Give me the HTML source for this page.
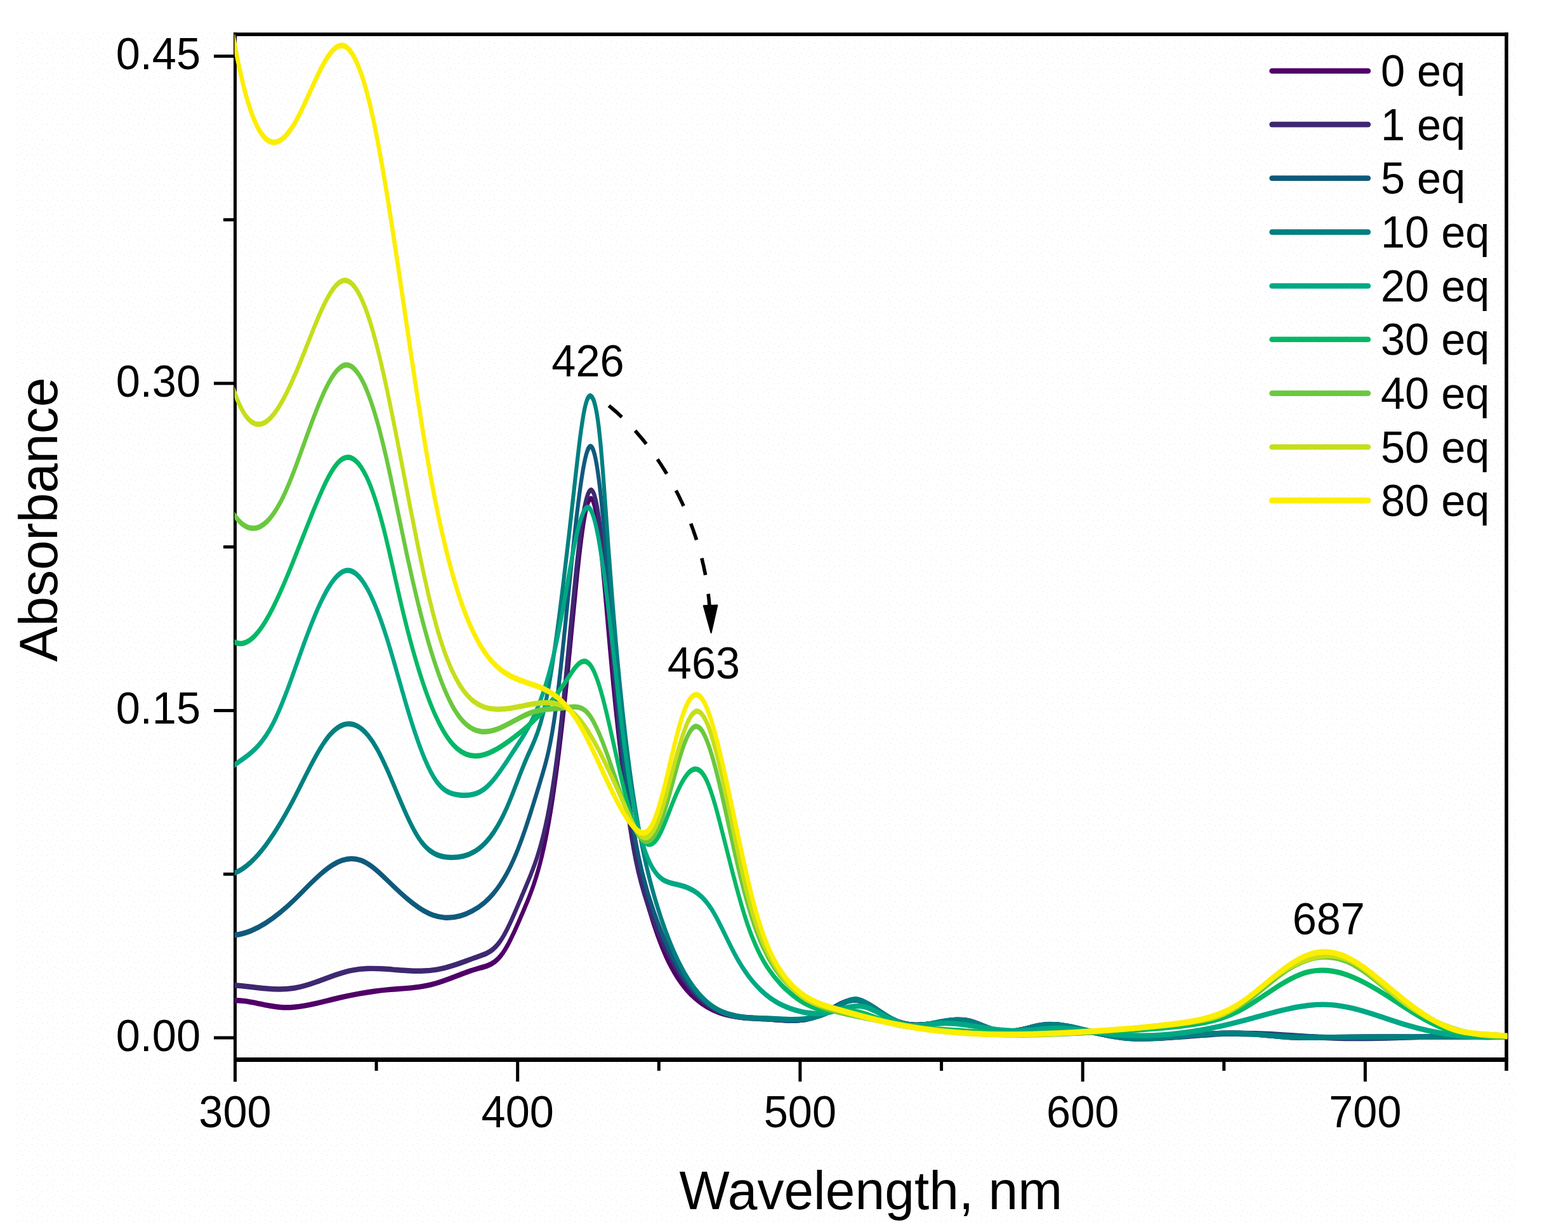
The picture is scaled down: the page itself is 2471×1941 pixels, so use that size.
<!DOCTYPE html>
<html lang="en"><head><meta charset="utf-8"><title>UV-vis titration: Absorbance vs Wavelength</title>
<style>
html,body{margin:0;padding:0;background:#fff;}
body{width:2471px;height:1941px;overflow:hidden;font-family:"Liberation Sans", Arial, Helvetica, sans-serif;}
svg{display:block;}
text{font-family:"Liberation Sans", Arial, Helvetica, sans-serif;fill:#000;}
.tk{font-size:68.5px;}
.ti{font-size:84.0px;}
.cv{fill:none;stroke-linejoin:round;stroke-linecap:butt;}
</style></head><body>
<svg xmlns="http://www.w3.org/2000/svg" width="2471" height="1941" viewBox="0 0 2471 1941">
<rect x="0" y="0" width="2471" height="1941" fill="#fff"/>
<defs><pattern id="dz" width="24" height="24" patternUnits="userSpaceOnUse"><rect x="2" y="3" width="1.2" height="1.2" fill="#dde8e0"/><rect x="10" y="1" width="1.2" height="1.2" fill="#d6f0f6"/><rect x="18" y="4" width="1.2" height="1.2" fill="#ffd6ea"/><rect x="6" y="9" width="1.2" height="1.2" fill="#eef6e0"/><rect x="14" y="11" width="1.2" height="1.2" fill="#dde8e0"/><rect x="21" y="13" width="1.2" height="1.2" fill="#d6f0f6"/><rect x="3" y="17" width="1.2" height="1.2" fill="#ffd6ea"/><rect x="11" y="19" width="1.2" height="1.2" fill="#dde8e0"/><rect x="17" y="21" width="1.2" height="1.2" fill="#eef6e0"/><rect x="8" y="14" width="1.2" height="1.2" fill="#d6f0f6"/></pattern></defs>
<rect x="26" y="51" width="2363" height="1878" fill="url(#dz)"/>
<g fill="#000">
<rect x="368" y="51.3" width="5" height="1653"/>
<rect x="2371.2" y="51.3" width="5.6" height="1635.7"/>
<rect x="368" y="51.3" width="2008.8" height="5.6"/>
<rect x="368" y="1666" width="2008.8" height="7"/>
<rect x="337" y="1632.5" width="32" height="5"/>
<rect x="337" y="1117" width="32" height="5"/>
<rect x="337" y="601.5" width="32" height="5"/>
<rect x="337" y="86" width="32" height="5"/>
<rect x="352" y="1374.7" width="17" height="5"/>
<rect x="352" y="859.2" width="17" height="5"/>
<rect x="352" y="343.7" width="17" height="5"/>
<rect x="813.2" y="1670" width="5" height="34"/>
<rect x="1258.4" y="1670" width="5" height="34"/>
<rect x="1703.7" y="1670" width="5" height="34"/>
<rect x="2148.9" y="1670" width="5" height="34"/>
<rect x="590.6" y="1670" width="5" height="17"/>
<rect x="1035.8" y="1670" width="5" height="17"/>
<rect x="1481.1" y="1670" width="5" height="17"/>
<rect x="1926.3" y="1670" width="5" height="17"/>
</g>
<defs><clipPath id="pc"><rect x="369.5" y="54" width="2005.8" height="1616"/></clipPath></defs>
<g class="cv" clip-path="url(#pc)">
<path d="M362.5,1163.16C365.2,1163.18 367.8,1163.21 370.5,1163.23C376.2,1163.28 381.9,1163.7 387.6,1164.31C393.7,1164.98 399.9,1165.88 406,1166.83C412.1,1167.77 418.3,1168.75 424.4,1169.57C430.5,1170.4 436.7,1171.06 442.8,1171.37C449.7,1171.72 456.5,1171.62 463.4,1171.2C474.9,1170.49 486.4,1168.88 497.9,1166.94C509.4,1164.99 520.9,1162.72 532.4,1160.69C543.9,1158.67 555.4,1156.89 566.9,1155.38C574.6,1154.37 582.2,1153.49 589.9,1152.73C597.6,1151.97 605.2,1151.33 612.9,1150.83C620.6,1150.33 628.2,1149.97 635.9,1149.53C643.6,1149.1 651.2,1148.6 658.9,1147.84C665.9,1147.13 673,1146.21 680,1144.9C688.9,1143.24 697.9,1140.97 706.8,1138.52C716.2,1135.94 725.5,1133.16 734.9,1130.67C741.2,1129 747.4,1127.45 753.7,1126.18C758.4,1125.24 763,1124.44 767.7,1123.16C771.8,1122.03 775.8,1120.54 779.9,1118.25C783,1116.48 786.2,1114.24 789.3,1111.33C791.8,1109 794.3,1106.25 796.8,1103.17C799.3,1100.09 801.8,1096.67 804.3,1093C806.2,1090.27 808,1087.4 809.9,1084.43C811.5,1081.93 813,1079.37 814.6,1076.76C816.2,1074.15 817.7,1071.5 819.3,1068.82C820.8,1066.19 822.4,1063.55 823.9,1060.9C825.5,1058.19 827,1055.48 828.6,1052.72C830.2,1049.96 831.7,1047.14 833.3,1044.23C834.9,1041.31 836.4,1038.29 838,1035.12C838.9,1033.23 839.9,1031.28 840.8,1029.27C845.1,1020.02 849.4,1009.39 853.7,996.35C856.3,988.37 859,979.48 861.6,969.45C863.8,961.07 866,951.9 868.2,941.92C870.4,931.95 872.6,921.17 874.8,909.58C877,897.81 879.3,885.21 881.5,871.77C883,862.75 884.5,853.34 886,843.55C887.5,833.76 889,823.59 890.5,813.03C891.5,806 892.5,798.79 893.5,791.41C896,772.97 898.5,753.45 901,734.03C903.8,712.01 906.7,690.11 909.5,670.03C913,645.22 916.5,623.17 920,607.07C921.7,599.41 923.3,593.09 925,588.47C926.3,584.77 927.7,582.16 929,580.81C929.9,579.86 930.9,579.54 931.8,579.89C932.7,580.24 933.7,581.27 934.6,582.93C935.9,585.26 937.2,588.83 938.5,593.54C940,598.98 941.5,605.94 943,614.27C947,636.49 951,668.44 955,702.17C956.5,714.82 958,727.72 959.5,740.45C960.7,750.35 961.8,760.15 963,769.65C967.8,809 972.7,843.2 977.5,873.17C981.2,895.9 984.8,916.19 988.5,934.43C992.5,954.33 996.5,971.8 1000.5,987.34C1008,1016.62 1015.6,1039.08 1023.1,1058.14C1031.9,1080.34 1040.6,1097.94 1049.4,1112.09C1055.3,1121.68 1061.3,1129.68 1067.2,1136.47C1076.9,1147.52 1086.5,1155.33 1096.2,1161.45C1108.7,1169.35 1121.2,1174.41 1133.7,1177.71C1146.2,1181 1158.6,1182.53 1171.1,1183.39C1183.6,1184.24 1196.1,1184.41 1208.6,1184.97C1219.1,1185.45 1229.5,1186.19 1240,1186.47C1248.9,1186.7 1257.8,1186.59 1266.7,1185.66C1275.6,1184.75 1284.4,1183.03 1293.3,1180.05C1299.5,1177.95 1305.8,1175.24 1312,1172.58C1317.3,1170.32 1322.7,1168.1 1328,1166.35C1335,1164.07 1342,1162.61 1349,1162.95C1355.3,1163.26 1361.7,1165.05 1368,1167.56C1374.2,1170.03 1380.5,1173.2 1386.7,1176.35C1392.9,1179.49 1399.1,1182.62 1405.3,1185.02C1412.4,1187.79 1419.6,1189.61 1426.7,1190.7C1432,1191.52 1437.4,1191.93 1442.7,1192.04C1450.7,1192.19 1458.7,1191.66 1466.7,1190.75C1473.8,1189.94 1480.9,1188.85 1488,1187.92C1494.2,1187.1 1500.5,1186.41 1506.7,1186.17C1512.9,1185.92 1519.1,1186.11 1525.3,1187.04C1532.4,1188.11 1539.6,1190.17 1546.7,1192.3C1553.8,1194.42 1560.9,1196.62 1568,1198C1574.2,1199.21 1580.5,1199.8 1586.7,1199.77C1593.8,1199.73 1600.9,1198.9 1608,1197.77C1615.1,1196.64 1622.2,1195.22 1629.3,1194.01C1635.5,1192.95 1641.8,1192.05 1648,1191.66C1652.4,1191.38 1656.9,1191.36 1661.3,1191.53C1667.5,1191.77 1673.8,1192.4 1680,1193.23C1687.1,1194.17 1694.2,1195.39 1701.3,1196.62C1709.3,1198.01 1717.3,1199.41 1725.3,1200.73C1732.4,1201.9 1739.6,1203.01 1746.7,1203.99C1755.6,1205.2 1764.4,1206.2 1773.3,1206.85C1782.2,1207.5 1791.1,1207.81 1800,1207.86C1813.3,1207.94 1826.7,1207.45 1840,1206.71C1853.3,1205.96 1866.7,1204.96 1880,1204.02C1888.3,1203.44 1896.7,1202.87 1905,1202.41C1912.7,1201.99 1920.3,1201.65 1928,1201.46C1935.3,1201.28 1942.7,1201.23 1950,1201.37C1959.7,1201.55 1969.3,1202.06 1979,1202.69C1997.3,1203.88 2015.7,1205.51 2034,1206.22C2057,1207.11 2080,1206.54 2103,1206.2C2135.3,1205.71 2167.7,1205.66 2200,1205.72C2233.3,1205.79 2266.7,1205.97 2300,1205.91C2324.7,1205.86 2349.3,1205.69 2374,1205.24C2376.7,1205.19 2379.3,1205.14 2382,1205.09" stroke="#500068" stroke-width="6.2" transform="scale(1,1.3548)"/>
<path d="M362.5,1145.55C365.2,1145.68 367.8,1145.8 370.5,1145.92C378.5,1146.28 386.5,1146.92 394.5,1147.59C402.2,1148.25 409.8,1148.94 417.5,1149.47C425.2,1150 432.8,1150.36 440.5,1150.37C448.1,1150.37 455.8,1150.01 463.4,1149.09C474.9,1147.71 486.4,1145.05 497.9,1142.04C509.4,1139.03 520.9,1135.66 532.4,1132.86C540.1,1131 547.7,1129.38 555.4,1128.29C563.1,1127.2 570.7,1126.63 578.4,1126.41C586.1,1126.19 593.7,1126.31 601.4,1126.6C607.5,1126.84 613.7,1127.18 619.8,1127.54C627.5,1127.98 635.1,1128.46 642.8,1128.78C649.7,1129.07 656.5,1129.24 663.4,1129.16C671.6,1129.06 679.9,1128.6 688.1,1127.57C697.5,1126.39 706.8,1124.46 716.2,1122.21C722.4,1120.7 728.7,1119.05 734.9,1117.38C741.2,1115.69 747.4,1113.98 753.7,1112.37C758.4,1111.17 763,1110.03 767.7,1108.28C770.8,1107.1 774,1105.65 777.1,1103.73C780.2,1101.8 783.4,1099.4 786.5,1096.33C789,1093.88 791.5,1090.99 794,1087.78C796.2,1084.99 798.3,1081.95 800.5,1078.72C802.4,1075.94 804.2,1073.01 806.1,1069.98C808,1066.9 809.9,1063.72 811.8,1060.47C814.3,1056.19 816.8,1051.81 819.3,1047.4C821.5,1043.59 823.6,1039.76 825.8,1035.98C827.2,1033.53 828.6,1031.11 830,1028.67C835.6,1018.97 841.1,1008.96 846.7,996.18C849.8,989.06 852.9,981.07 856,971.8C858.3,964.82 860.7,957.11 863,948.49C865.5,939.25 868,928.96 870.5,917.4C873,905.84 875.5,893 878,878.67C879.6,869.49 881.2,859.71 882.8,849.38C884.4,839.27 885.9,828.64 887.5,817.56C888.5,810.49 889.5,803.24 890.5,795.82C893.2,776.05 895.8,755.1 898.5,734.29C901.3,712.17 904.2,690.2 907,669.93C910,648.47 913,628.91 916,613.11C918,602.58 920,593.71 922,586.81C923.5,581.64 925,577.57 926.5,574.73C927.3,573.16 928.2,571.96 929,571.17C929.9,570.35 930.7,569.95 931.6,570.02C932.5,570.09 933.3,570.62 934.2,571.63C935,572.6 935.9,574.02 936.7,575.9C938.1,579.15 939.6,583.78 941,589.59C942.8,597.02 944.7,606.38 946.5,617.24C950,637.97 953.5,664.18 957,692.86C958.3,703.79 959.7,715.07 961,726.55C962.3,737.75 963.6,749.12 964.9,760.53C969.7,802.66 974.5,845.22 979.3,880.49C982.9,906.71 986.4,928.9 990,947.9C993.8,968.32 997.7,985.07 1001.5,999.17C1009.6,1029.08 1017.8,1047.09 1025.9,1063.1C1034.9,1080.87 1044,1096.18 1053,1109.3C1061,1120.92 1069,1130.83 1077,1139.24C1087,1149.74 1097,1157.88 1107,1164.05C1115.9,1169.55 1124.8,1173.49 1133.7,1176.34C1146.2,1180.34 1158.6,1182.19 1171.1,1183.18C1183.6,1184.18 1196.1,1184.31 1208.6,1184.87C1219.1,1185.34 1229.5,1186.1 1240,1186.4C1248.9,1186.65 1257.8,1186.56 1266.7,1185.66C1275.6,1184.76 1284.4,1183.06 1293.3,1180.08C1299.5,1177.99 1305.8,1175.27 1312,1172.61C1317.3,1170.34 1322.7,1168.11 1328,1166.36C1335,1164.06 1342,1162.6 1349,1162.94C1355.3,1163.24 1361.7,1165.03 1368,1167.55C1374.2,1170.02 1380.5,1173.2 1386.7,1176.36C1392.9,1179.51 1399.1,1182.63 1405.3,1185.04C1412.4,1187.81 1419.6,1189.62 1426.7,1190.71C1432,1191.52 1437.4,1191.93 1442.7,1192.03C1450.7,1192.18 1458.7,1191.64 1466.7,1190.73C1473.8,1189.93 1480.9,1188.84 1488,1187.92C1494.2,1187.12 1500.5,1186.44 1506.7,1186.19C1512.9,1185.94 1519.1,1186.13 1525.3,1187.05C1532.4,1188.1 1539.6,1190.12 1546.7,1192.24C1553.8,1194.34 1560.9,1196.54 1568,1197.97C1574.2,1199.23 1580.5,1199.89 1586.7,1199.88C1593.8,1199.88 1600.9,1199 1608,1197.82C1615.1,1196.63 1622.2,1195.13 1629.3,1193.87C1635.5,1192.76 1641.8,1191.84 1648,1191.48C1652.4,1191.22 1656.9,1191.25 1661.3,1191.48C1667.5,1191.81 1673.8,1192.54 1680,1193.47C1687.1,1194.53 1694.2,1195.84 1701.3,1197.08C1709.3,1198.48 1717.3,1199.79 1725.3,1200.98C1732.4,1202.03 1739.6,1202.99 1746.7,1203.82C1755.6,1204.85 1764.4,1205.68 1773.3,1206.24C1782.2,1206.81 1791.1,1207.12 1800,1207.24C1813.3,1207.4 1826.7,1207.13 1840,1206.63C1853.3,1206.12 1866.7,1205.39 1880,1204.64C1888.3,1204.17 1896.7,1203.7 1905,1203.27C1912.7,1202.87 1920.3,1202.52 1928,1202.24C1935.3,1201.98 1942.7,1201.78 1950,1201.7C1959.7,1201.59 1969.3,1201.67 1979,1201.87C1997.3,1202.27 2015.7,1203.13 2034,1204.06C2057,1205.23 2080,1206.52 2103,1207.15C2135.3,1208.04 2167.7,1207.62 2200,1206.89C2233.3,1206.13 2266.7,1205.05 2300,1204.71C2324.7,1204.46 2349.3,1204.63 2374,1205.64C2376.7,1205.75 2379.3,1205.86 2382,1205.97" stroke="#3E2870" stroke-width="6.2" transform="scale(1,1.3548)"/>
<path d="M362.5,1087.94C365.2,1087.72 367.8,1087.5 370.5,1087.28C378.7,1086.6 386.9,1084.97 395.1,1082.54C402.9,1080.22 410.7,1077.18 418.5,1073.52C426.3,1069.85 434.2,1065.57 442,1060.8C449.8,1056.05 457.6,1050.81 465.4,1045.21C473.2,1039.62 481,1033.66 488.8,1027.95C496.6,1022.24 504.4,1016.77 512.2,1012.16C516.1,1009.84 520.1,1007.73 524,1005.92C529,1003.62 534,1001.8 539,1000.54C544,999.29 549,998.6 554,998.57C559,998.54 564,999.17 569,1000.55C574,1001.92 579,1004.05 584,1006.67C587.4,1008.45 590.8,1010.46 594.2,1012.62C602,1017.58 609.8,1023.32 617.6,1028.88C625.4,1034.44 633.2,1039.83 641,1044.72C647.3,1048.69 653.7,1052.32 660,1055.45C667.7,1059.28 675.5,1062.34 683.2,1064.34C688.9,1065.8 694.6,1066.69 700.3,1067.03C708.7,1067.52 717.2,1066.82 725.6,1065.03C731.8,1063.7 738.1,1061.78 744.3,1059.31C750.5,1056.84 756.8,1053.82 763,1049.92C767.7,1046.98 772.4,1043.54 777.1,1039.45C780.6,1036.43 784,1033.07 787.5,1029.29C789.7,1026.93 791.8,1024.41 794,1021.72C796.7,1018.33 799.5,1014.66 802.2,1010.68C806.9,1003.89 811.5,996.22 816.2,987.52C819.9,980.57 823.7,972.95 827.4,964.89C830.9,957.4 834.3,949.52 837.8,941.42C840.6,934.88 843.4,928.19 846.2,921.44C848,917.19 849.7,912.91 851.5,908.63C854.6,901.03 857.8,893.44 860.9,884.39C863.1,878.13 865.2,871.18 867.4,863.06C869.3,855.94 871.2,847.92 873.1,838.67C874.7,831.05 876.2,822.59 877.8,813.48C878.9,807.28 879.9,800.78 881,794.03C884,775.06 887,754.14 890,732.56C893.2,709.77 896.3,686.24 899.5,663.45C902.3,643.06 905.2,623.27 908,605.14C910.6,588.71 913.1,573.65 915.7,560.74C917.1,553.71 918.5,547.31 919.9,541.76C921.4,535.68 923,530.61 924.5,526.83C925.6,524.2 926.6,522.2 927.7,520.9C928.7,519.68 929.7,519.09 930.7,519.15C931.7,519.21 932.7,519.92 933.7,521.3C934.8,522.82 935.9,525.15 937,528.32C938.5,532.66 940,538.56 941.5,545.82C942.8,552.27 944.2,559.8 945.5,568.25C947.5,580.93 949.5,595.68 951.5,612.01C954.2,634.33 957,659.58 959.7,685.55C961.5,702.33 963.2,719.42 965,736.19C966.8,753.6 968.7,770.68 970.5,786.76C974.7,823.31 978.8,854.69 983,881.84C986.7,905.74 990.3,926.37 994,944.38C998.2,964.84 1002.3,981.91 1006.5,996.55C1014.5,1024.76 1022.6,1043.91 1030.6,1060.78C1039.7,1079.96 1048.9,1096.2 1058,1109.92C1065,1120.44 1072,1129.48 1079,1137.24C1089,1148.33 1099,1156.79 1109,1163.19C1117.2,1168.47 1125.5,1172.34 1133.7,1175.22C1146.2,1179.57 1158.6,1181.63 1171.1,1182.75C1183.6,1183.87 1196.1,1184.05 1208.6,1184.66C1219.1,1185.17 1229.5,1185.98 1240,1186.32C1248.9,1186.61 1257.8,1186.55 1266.7,1185.68C1275.6,1184.81 1284.4,1183.12 1293.3,1180.14C1299.5,1178.05 1305.8,1175.32 1312,1172.65C1317.3,1170.37 1322.7,1168.13 1328,1166.37C1335,1164.07 1342,1162.59 1349,1162.92C1355.3,1163.22 1361.7,1165 1368,1167.52C1374.2,1169.99 1380.5,1173.17 1386.7,1176.34C1392.9,1179.49 1399.1,1182.62 1405.3,1185.03C1412.4,1187.81 1419.6,1189.63 1426.7,1190.72C1432,1191.54 1437.4,1191.95 1442.7,1192.05C1450.7,1192.2 1458.7,1191.66 1466.7,1190.75C1473.8,1189.93 1480.9,1188.83 1488,1187.9C1494.2,1187.08 1500.5,1186.39 1506.7,1186.15C1512.9,1185.91 1519.1,1186.1 1525.3,1187.05C1532.4,1188.13 1539.6,1190.2 1546.7,1192.34C1553.8,1194.47 1560.9,1196.67 1568,1198.02C1574.2,1199.2 1580.5,1199.74 1586.7,1199.7C1593.8,1199.64 1600.9,1198.83 1608,1197.74C1615.1,1196.65 1622.2,1195.28 1629.3,1194.1C1635.5,1193.06 1641.8,1192.18 1648,1191.77C1652.4,1191.48 1656.9,1191.42 1661.3,1191.55C1667.5,1191.74 1673.8,1192.29 1680,1193.07C1687.1,1193.95 1694.2,1195.12 1701.3,1196.36C1709.3,1197.75 1717.3,1199.24 1725.3,1200.66C1732.4,1201.93 1739.6,1203.14 1746.7,1204.21C1755.6,1205.53 1764.4,1206.61 1773.3,1207.25C1782.2,1207.9 1791.1,1208.09 1800,1208C1813.3,1207.85 1826.7,1207.05 1840,1206.11C1853.3,1205.17 1866.7,1204.08 1880,1203.36C1888.3,1202.91 1896.7,1202.6 1905,1202.41C1912.7,1202.23 1920.3,1202.15 1928,1202.14C1935.3,1202.13 1942.7,1202.18 1950,1202.28C1959.7,1202.41 1969.3,1202.61 1979,1202.86C1997.3,1203.33 2015.7,1203.98 2034,1204.61C2057,1205.4 2080,1206.18 2103,1206.57C2135.3,1207.12 2167.7,1206.92 2200,1206.51C2233.3,1206.08 2266.7,1205.44 2300,1205.18C2324.7,1204.99 2349.3,1205.01 2374,1205.48C2376.7,1205.53 2379.3,1205.58 2382,1205.63" stroke="#0F5A7C" stroke-width="6.2" transform="scale(1,1.3548)"/>
<path d="M362.5,1017.38C365.2,1016.57 367.8,1015.75 370.5,1014.94C378.7,1012.43 386.9,1008.26 395.1,1002.68C402.9,997.36 410.7,990.77 418.5,983.1C426.3,975.39 434.2,966.6 442,956.93C449.8,947.3 457.6,936.8 465.4,925.63C473.2,914.47 481,902.64 488.8,891.55C495.8,881.54 502.9,872.14 509.9,864.35C513.3,860.63 516.6,857.27 520,854.4C523.7,851.28 527.3,848.72 531,846.75C534.3,844.96 537.7,843.64 541,842.81C544.5,841.94 548,841.59 551.5,841.78C555,841.98 558.5,842.7 562,843.97C565,845.05 568,846.53 571,848.41C574,850.29 577,852.57 580,855.25C584.7,859.47 589.5,864.7 594.2,870.93C599.7,878.13 605.1,886.67 610.6,895.82C616.1,904.96 621.5,914.71 627,924.33C632.5,933.94 637.9,943.42 643.4,952.03C648.9,960.64 654.3,968.37 659.8,974.49C665.3,980.61 670.7,985.11 676.2,988.41C681.7,991.71 687.1,993.81 692.6,995.12C698.8,996.61 705.1,997.07 711.3,997.11C717.5,997.16 723.8,996.78 730,995.68C736.3,994.57 742.5,992.73 748.8,989.85C752.5,988.14 756.3,986.06 760,983.54C766.2,979.34 772.5,973.92 778.7,967C781.8,963.51 785,959.65 788.1,955.37C791.2,951.08 794.4,946.37 797.5,941.21C800.6,936.1 803.7,930.54 806.8,924.77C808.9,920.93 810.9,916.99 813,913.04C816.5,906.41 819.9,899.72 823.4,893.33C825.8,888.96 828.1,884.73 830.5,880.75C832.8,876.82 835.2,873.13 837.5,869.3C840.6,864.23 843.7,858.92 846.8,852.53C849.9,846.07 853.1,838.5 856.2,828.93C859.3,819.36 862.5,807.8 865.6,794.58C866.4,791.21 867.2,787.72 868,784.14C871.2,769.95 874.3,754.17 877.5,737.16C880.8,719.61 884,700.74 887.3,680.96C890.4,662.39 893.4,643 896.5,623.14C899.2,605.86 901.8,588.22 904.5,570.43C905.6,563.09 906.7,555.73 907.8,548.48C909.3,538.38 910.9,528.51 912.4,519.27C914.5,506.41 916.7,494.76 918.8,485.37C920.1,479.65 921.4,474.78 922.7,470.98C923.8,467.77 924.9,465.33 926,463.61C927.1,461.89 928.2,460.9 929.3,460.56C930.4,460.23 931.5,460.57 932.6,461.52C934,462.72 935.4,464.92 936.8,468.42C938.2,471.91 939.6,476.7 941,483.08C942.4,489.46 943.8,497.43 945.2,507.3C946.8,518.34 948.3,531.75 949.9,546.49C951.1,557.79 952.3,569.86 953.5,582.25C955.3,600.49 957,619.41 958.8,637.52C961.1,660.76 963.3,682.66 965.6,703.32C967.6,721.25 969.5,738.25 971.5,754.38C973.7,772.15 975.8,788.87 978,804.62C982.8,839.75 987.7,870.05 992.5,896.47C996,915.59 999.5,932.68 1003,948.08C1007,965.69 1011,981.09 1015,994.82C1022.4,1020.1 1029.7,1039.72 1037.1,1056.99C1045.2,1076.04 1053.4,1092.23 1061.5,1105.97C1067.4,1116 1073.4,1124.72 1079.3,1132.32C1089.3,1145.13 1099.3,1154.74 1109.3,1161.95C1117.4,1167.81 1125.6,1172.09 1133.7,1175.23C1146.2,1180.03 1158.6,1182.14 1171.1,1183.12C1183.6,1184.11 1196.1,1183.96 1208.6,1184.27C1219.1,1184.53 1229.5,1185.1 1240,1185.37C1248.9,1185.59 1257.8,1185.59 1266.7,1184.97C1275.6,1184.35 1284.4,1183.12 1293.3,1180.9C1299.5,1179.33 1305.8,1177.28 1312,1174.6C1317.3,1172.31 1322.7,1169.55 1328,1167.21C1335,1164.13 1342,1161.75 1349,1162.01C1355.3,1162.26 1361.7,1164.66 1368,1167.41C1374.2,1170.11 1380.5,1173.14 1386.7,1176.13C1392.9,1179.1 1399.1,1182.03 1405.3,1184.57C1412.4,1187.48 1419.6,1189.87 1426.7,1191.18C1432,1192.15 1437.4,1192.53 1442.7,1192.51C1450.7,1192.48 1458.7,1191.55 1466.7,1190.43C1473.8,1189.43 1480.9,1188.27 1488,1187.43C1494.2,1186.69 1500.5,1186.21 1506.7,1186.16C1512.9,1186.1 1519.1,1186.48 1525.3,1187.46C1532.4,1188.59 1539.6,1190.52 1546.7,1192.49C1553.8,1194.45 1560.9,1196.46 1568,1197.75C1574.2,1198.89 1580.5,1199.48 1586.7,1199.57C1593.8,1199.67 1600.9,1199.12 1608,1197.98C1615.1,1196.85 1622.2,1195.13 1629.3,1193.93C1635.5,1192.87 1641.8,1192.21 1648,1191.89C1652.4,1191.66 1656.9,1191.6 1661.3,1191.7C1667.5,1191.84 1673.8,1192.29 1680,1192.98C1687.1,1193.78 1694.2,1194.9 1701.3,1196.16C1709.3,1197.59 1717.3,1199.19 1725.3,1200.71C1732.4,1202.06 1739.6,1203.34 1746.7,1204.35C1755.6,1205.62 1764.4,1206.48 1773.3,1207.03C1782.2,1207.58 1791.1,1207.81 1800,1207.81C1813.3,1207.81 1826.7,1207.29 1840,1206.54C1853.3,1205.8 1866.7,1204.83 1880,1203.93C1888.3,1203.37 1896.7,1202.84 1905,1202.4C1912.7,1202.01 1920.3,1201.69 1928,1201.52C1935.3,1201.35 1942.7,1201.31 1950,1201.45C1959.7,1201.63 1969.3,1202.12 1979,1202.73C1997.3,1203.89 2015.7,1205.46 2034,1206.16C2057,1207.03 2080,1206.51 2103,1206.19C2135.3,1205.75 2167.7,1205.7 2200,1205.75C2233.3,1205.8 2266.7,1205.96 2300,1205.89C2324.7,1205.84 2349.3,1205.67 2374,1205.24C2376.7,1205.2 2379.3,1205.15 2382,1205.1" stroke="#008080" stroke-width="6.2" transform="scale(1,1.3548)"/>
<path d="M362.5,893.1C365.2,891.73 367.8,890.36 370.5,888.99C378.7,884.77 386.9,880.82 395.1,875.62C399,873.15 402.9,870.4 406.8,867.21C410.7,864.02 414.6,860.39 418.5,856.16C422.4,851.89 426.4,847 430.3,841.34C436.5,832.37 442.8,821.44 449,809.53C454.3,799.34 459.7,788.43 465,777.39C470,767.05 475,756.61 480,746.56C483.1,740.26 486.3,734.12 489.4,728.21C492.5,722.37 495.6,716.75 498.7,711.43C501.8,706.05 505,700.99 508.1,696.3C511.2,691.62 514.4,687.32 517.5,683.49C520.6,679.69 523.7,676.35 526.8,673.53C529.9,670.68 533.1,668.37 536.2,666.67C540.6,664.3 544.9,663.13 549.3,663.35C553.4,663.56 557.4,664.98 561.5,667.5C564.6,669.45 567.8,672.05 570.9,675.25C573.7,678.11 576.5,681.46 579.3,685.25C582.1,689.05 584.9,693.29 587.7,697.94C590.2,702.09 592.7,706.57 595.2,711.35C597.7,716.13 600.2,721.22 602.7,726.58C604.9,731.29 607.1,736.22 609.3,741.35C611.2,745.7 613,750.19 614.9,754.79C616.8,759.38 618.6,764.07 620.5,768.83C622.7,774.34 624.8,779.94 627,785.55C631.7,797.64 636.3,809.8 641,821.39C645.7,833.06 650.4,844.15 655.1,854.39C659.8,864.57 664.4,873.9 669.1,882.13C675.4,893.19 681.6,902.25 687.9,908.69C693.6,914.55 699.3,918.23 705,920.58C711.8,923.36 718.5,924.26 725.3,924.68C732.2,925.1 739.1,925.02 746,923.71C752.2,922.53 758.5,920.34 764.7,916.62C770.5,913.17 776.2,908.42 782,902.9C788,897.17 794,890.62 800,883.9C803.1,880.39 806.3,876.83 809.4,873.31C812.5,869.83 815.6,866.38 818.7,862.84C821.8,859.25 825,855.55 828.1,851.59C831.2,847.63 834.4,843.41 837.5,838.77C840.6,834.18 843.7,829.18 846.8,823.63C849.9,818.01 853.1,811.83 856.2,804.92C857.9,801.1 859.7,797.06 861.4,792.77C868.3,775.79 875.1,754.92 882,728.57C886.9,709.77 891.8,688.17 896.7,667.71C899.8,654.9 902.8,642.55 905.9,631.61C908.7,621.61 911.5,612.8 914.3,605.9C916.4,600.81 918.4,596.76 920.5,594.04C921.8,592.29 923.2,591.1 924.5,590.53C925.5,590.12 926.4,590.04 927.4,590.32C928.4,590.6 929.3,591.23 930.3,592.25C931.5,593.55 932.8,595.48 934,597.98C935.5,601.01 937,604.9 938.5,609.52C940.7,616.4 943,624.93 945.2,634.77C947.6,645.49 950.1,657.77 952.5,671.17C955.3,686.78 958.2,703.92 961,721.79C963.9,739.87 966.7,758.71 969.6,777.49C975.2,814.39 980.9,851.06 986.5,881.31C989.1,895.28 991.7,907.87 994.3,919.24C996.5,928.86 998.7,937.6 1000.9,945.54C1003.9,956.49 1007,965.92 1010,974.07C1014.1,985.16 1018.3,993.85 1022.4,1000.69C1027,1008.31 1031.6,1013.63 1036.2,1017.43C1040.9,1021.32 1045.6,1023.61 1050.3,1025.13C1055,1026.63 1059.6,1027.38 1064.3,1028.16C1069,1028.94 1073.7,1029.76 1078.4,1030.88C1083.1,1032 1087.7,1033.42 1092.4,1035.4C1097.1,1037.39 1101.8,1039.96 1106.5,1043.36C1111.2,1046.75 1115.8,1050.96 1120.5,1056.26C1125.2,1061.6 1129.9,1068.05 1134.6,1074.93C1139.3,1081.76 1143.9,1089.02 1148.6,1096.05C1151.4,1100.31 1154.3,1104.49 1157.1,1108.43C1161.8,1114.92 1166.4,1120.78 1171.1,1126.07C1175.8,1131.39 1180.5,1136.14 1185.2,1140.39C1189.9,1144.63 1194.6,1148.38 1199.3,1151.68C1204,1154.97 1208.6,1157.83 1213.3,1160.33C1218,1162.85 1222.7,1165 1227.4,1166.87C1231.6,1168.54 1235.8,1169.97 1240,1171.22C1244.1,1172.45 1248.2,1173.5 1252.3,1174.42C1261.3,1176.45 1270.3,1177.87 1279.3,1178.41C1286.2,1178.83 1293.1,1178.73 1300,1177.99C1306.7,1177.28 1313.3,1175.97 1320,1174.6C1325,1173.58 1330,1172.53 1335,1171.67C1339.7,1170.88 1344.3,1170.26 1349,1170.05C1353.7,1169.84 1358.3,1170.05 1363,1170.91C1368.7,1171.96 1374.3,1173.98 1380,1176.12C1388.3,1179.27 1396.7,1182.68 1405,1185.58C1413.3,1188.47 1421.7,1190.85 1430,1191.92C1436.7,1192.77 1443.3,1192.8 1450,1192.46C1460,1191.96 1470,1190.66 1480,1190.18C1488.7,1189.76 1497.3,1189.95 1506,1190.5C1514,1191.01 1522,1191.81 1530,1192.71C1538.3,1193.65 1546.7,1194.7 1555,1195.61C1565.3,1196.74 1575.7,1197.68 1586,1198.21C1595.7,1198.71 1605.3,1198.85 1615,1198.47C1623.3,1198.15 1631.7,1197.43 1640,1196.8C1647,1196.26 1654,1195.78 1661,1195.62C1669,1195.44 1677,1195.69 1685,1196.2C1693.3,1196.73 1701.7,1197.53 1710,1198.42C1722,1199.7 1734,1201.16 1746,1202.21C1764,1203.8 1782,1204.48 1800,1204.39C1820,1204.29 1840,1203.24 1860,1201.42C1881.3,1199.48 1902.7,1196.67 1924,1193.21C1937.8,1190.96 1951.7,1188.45 1965.5,1185.72C1983.9,1182.08 2002.3,1178.08 2020.7,1174.81C2034.5,1172.37 2048.2,1170.34 2062,1169.19C2074,1168.19 2086,1167.86 2098,1168.51C2109,1169.11 2120,1170.53 2131,1172.46C2144.8,1174.87 2158.6,1178.08 2172.4,1181.46C2186.2,1184.83 2200,1188.38 2213.8,1191.45C2227.6,1194.53 2241.4,1197.14 2255.2,1199.27C2269,1201.4 2282.8,1203.05 2296.6,1204.21C2322.4,1206.37 2348.2,1206.81 2374,1205.41C2376.7,1205.27 2379.3,1205.13 2382,1204.98" stroke="#00A884" stroke-width="6.2" transform="scale(1,1.3548)"/>
<path d="M362.5,744.11C365.2,745.05 367.8,745.99 370.5,746.93C374,748.17 377.5,748.62 381,748.37C389.6,747.75 398.2,742.89 406.8,734.95C414.6,727.72 422.5,717.93 430.3,706.45C438.1,695.03 445.9,681.94 453.7,668.04C458.5,659.55 463.2,650.76 468,641.87C472,634.41 476,626.88 480,619.39C483.1,613.53 486.3,607.69 489.4,601.94C492.5,596.24 495.6,590.63 498.7,585.16C501.8,579.63 505,574.23 508.1,569.13C511.2,564.03 514.4,559.23 517.5,554.88C520.6,550.57 523.7,546.71 526.8,543.44C529.9,540.13 533.1,537.43 536.2,535.48C540.1,533.07 544,531.83 547.9,531.78C551.8,531.73 555.7,532.87 559.6,535.2C562.7,537.08 565.9,539.73 569,543.15C571.8,546.21 574.6,549.89 577.4,554.19C579.9,558.04 582.4,562.38 584.9,567.19C587.4,572.01 589.9,577.31 592.4,583.07C594.9,588.83 597.4,595.05 599.9,601.71C601.8,606.69 603.6,611.91 605.5,617.38C607.4,622.84 609.2,628.54 611.1,634.4C612.7,639.31 614.2,644.34 615.8,649.42C618,656.56 620.2,663.81 622.4,671.04C624.9,679.25 627.4,687.43 629.9,695.37C632.4,703.31 634.9,711.02 637.4,718.48C639.9,725.94 642.4,733.16 644.9,740.13C647.4,747.1 649.9,753.83 652.4,760.3C654.9,766.68 657.3,772.82 659.8,778.71C664.5,789.85 669.1,800.09 673.8,809.4C678.5,818.78 683.2,827.21 687.9,834.67C693.4,843.34 698.8,850.68 704.3,856.66C709.8,862.63 715.2,867.22 720.7,870.66C730.1,876.54 739.4,879 748.8,879.12C759.7,879.26 770.6,876.22 781.5,871.69C787.7,869.13 793.8,866.09 800,862.87C806.2,859.62 812.5,856.2 818.7,852.51C825,848.8 831.2,844.83 837.5,840.5C843.7,836.2 850,831.54 856.2,826.46C862.4,821.37 868.7,815.84 874.9,809.8C878.3,806.53 881.6,803.11 885,799.56C888.3,796.04 891.7,792.39 895,788.62C898.3,784.89 901.6,781.04 904.9,777.76C907.3,775.41 909.6,773.35 912,771.84C914.6,770.15 917.3,769.13 919.9,768.99C922.3,768.86 924.6,769.44 927,770.87C929,772.08 931,773.89 933,776.4C935.2,779.16 937.4,782.76 939.6,787.05C941.3,790.43 943.1,794.23 944.8,798.39C947,803.58 949.1,809.33 951.3,815.48C954.1,823.42 956.9,832.03 959.7,841C963,851.57 966.3,862.63 969.6,873.66C972,881.57 974.3,889.47 976.7,897.16C978.2,902.04 979.7,906.83 981.2,911.49C985,923.19 988.7,934.07 992.5,943.34C995.3,950.23 998.1,956.24 1000.9,961.33C1004.3,967.44 1007.6,972.24 1011,975.65C1015.4,980.14 1019.9,982.23 1024.3,981.79C1027.9,981.44 1031.4,979.45 1035,975.76C1037.7,973.01 1040.3,969.3 1043,965.02C1046.1,959.99 1049.3,954.18 1052.4,948.2C1055.2,942.86 1058,937.38 1060.8,932.22C1064.2,925.89 1067.7,920.03 1071.1,914.9C1072.9,912.22 1074.7,909.73 1076.5,907.48C1078.3,905.2 1080.2,903.16 1082,901.41C1084,899.5 1086,897.94 1088,896.77C1090.2,895.49 1092.4,894.69 1094.6,894.44C1096.7,894.2 1098.9,894.48 1101,895.33C1103,896.14 1105,897.45 1107,899.33C1108.8,901.03 1110.6,903.18 1112.4,905.82C1114.3,908.56 1116.1,911.84 1118,915.54C1121.1,921.76 1124.3,929.18 1127.4,937.31C1130.5,945.36 1133.6,954.11 1136.7,963.07C1137.8,966.25 1138.9,969.46 1140,972.67C1144.5,985.82 1149,999.07 1153.5,1011.92C1159.4,1028.67 1165.2,1044.74 1171.1,1059.02C1173.3,1064.37 1175.5,1069.47 1177.7,1074.26C1181.9,1083.48 1186.2,1091.55 1190.4,1098.68C1193,1103.11 1195.7,1107.18 1198.3,1110.94C1202,1116.17 1205.6,1120.79 1209.3,1124.94C1216.5,1133.05 1223.6,1139.36 1230.8,1144.88C1233.9,1147.24 1236.9,1149.46 1240,1151.53C1245.9,1155.53 1251.8,1159 1257.7,1161.96C1266.7,1166.48 1275.7,1169.81 1284.7,1172.02C1289.8,1173.27 1294.9,1174.16 1300,1174.71C1308.3,1175.59 1316.7,1175.54 1325,1175.54C1333,1175.55 1341,1175.59 1349,1176.56C1357.7,1177.61 1366.3,1179.73 1375,1182.1C1383.3,1184.37 1391.7,1186.85 1400,1188.8C1410,1191.15 1420,1192.72 1430,1193.84C1437.8,1194.7 1445.5,1195.29 1453.3,1195.75C1462.2,1196.28 1471.1,1196.63 1480,1197.03C1488.9,1197.43 1497.8,1197.88 1506.7,1198.34C1516.1,1198.83 1525.6,1199.33 1535,1199.8C1543.3,1200.22 1551.7,1200.62 1560,1200.97C1570,1201.4 1580,1201.75 1590,1201.98C1597.8,1202.16 1605.5,1202.28 1613.3,1202.33C1622.2,1202.39 1631.1,1202.37 1640,1202.3C1648.9,1202.23 1657.8,1202.1 1666.7,1201.93C1676.1,1201.75 1685.6,1201.53 1695,1201.28C1703.3,1201.07 1711.7,1200.84 1720,1200.58C1737.8,1200.04 1755.5,1199.4 1773.3,1198.61C1782.2,1198.22 1791.1,1197.78 1800,1197.3C1818.3,1196.32 1836.7,1195.14 1855,1193.71C1868.9,1192.64 1882.7,1191.41 1896.6,1189.41C1905.7,1188.09 1914.9,1186.43 1924,1184.25C1933.2,1182.05 1942.5,1179.31 1951.7,1175.85C1960.9,1172.4 1970.1,1168.23 1979.3,1163.82C1988.5,1159.41 1997.7,1154.75 2006.9,1150.31C2016.1,1145.88 2025.3,1141.66 2034.5,1138.15C2043.7,1134.64 2052.8,1131.82 2062,1130.16C2072.1,1128.33 2082.3,1127.9 2092.4,1128.59C2102.5,1129.28 2112.7,1131.09 2122.8,1133.72C2132,1136.1 2141.1,1139.15 2150.3,1142.66C2159.5,1146.17 2168.7,1150.15 2177.9,1154.36C2187.1,1158.58 2196.3,1163.03 2205.5,1167.44C2214.7,1171.86 2223.9,1176.24 2233.1,1180.31C2242.3,1184.39 2251.5,1188.15 2260.7,1191.34C2269.9,1194.53 2279.1,1197.14 2288.3,1198.89C2297.5,1200.65 2306.7,1201.56 2315.9,1202.1C2325.1,1202.63 2334.2,1202.81 2343.4,1203.1C2353.6,1203.42 2363.8,1203.88 2374,1205.15C2376.7,1205.48 2379.3,1205.81 2382,1206.14" stroke="#04B866" stroke-width="6.2" transform="scale(1,1.3548)"/>
<path d="M362.5,592.31C365.2,594.97 367.8,597.63 370.5,600.28C379.5,609.25 388.5,613.86 397.5,614.33C405.3,614.74 413.1,612.04 420.9,606.37C426.4,602.39 431.8,596.95 437.3,590.1C440.4,586.18 443.6,581.79 446.7,576.94C452.9,567.3 459.2,555.86 465.4,543.65C470.3,534.12 475.1,524.12 480,514.14C483.1,507.72 486.3,501.3 489.4,495.03C492.5,488.82 495.6,482.76 498.7,476.95C501.8,471.08 505,465.47 508.1,460.26C511.2,455.04 514.4,450.22 517.5,445.91C520.6,441.64 523.7,437.89 526.8,434.75C529.9,431.59 533.1,429.06 536.2,427.3C539.6,425.37 543.1,424.36 546.5,424.43C549.9,424.5 553.4,425.65 556.8,427.84C559.9,429.83 563.1,432.68 566.2,436.34C568.7,439.27 571.2,442.71 573.7,446.65C576.2,450.59 578.7,455.03 581.2,459.95C583.7,464.87 586.2,470.26 588.7,476.11C590.9,481.18 593,486.6 595.2,492.34C597.4,498.17 599.6,504.34 601.8,510.83C604,517.23 606.1,523.94 608.3,530.9C610.8,538.92 613.3,547.26 615.8,555.8C618.3,564.34 620.8,573.08 623.3,581.9C625.8,590.73 628.3,599.64 630.8,608.52C633.3,617.4 635.8,626.24 638.3,634.94C639.9,640.39 641.4,645.78 643,651.08C645.2,658.53 647.4,665.81 649.6,672.9C651.8,679.89 653.9,686.7 656.1,693.33C658.6,700.98 661.1,708.39 663.6,715.55C666.1,722.71 668.6,729.61 671.1,736.25C675.1,746.96 679.2,756.99 683.2,766.29C688.7,778.89 694.1,790.15 699.6,799.95C705.1,809.75 710.5,818.1 716,824.87C722.2,832.6 728.5,838.28 734.7,842.33C742.5,847.4 750.3,849.91 758.1,850.66C765.9,851.41 773.7,850.4 781.5,848.42C787.7,846.86 793.8,844.7 800,842.32C806.2,839.93 812.5,837.32 818.7,834.9C825,832.47 831.2,830.24 837.5,828.61C843.7,827 850,825.99 856.2,825.3C862.4,824.61 868.7,824.24 874.9,823.91C881.2,823.57 887.4,823.28 893.7,822.74C897.8,822.39 901.8,821.93 905.9,821.98C909.6,822.02 913.4,822.49 917.1,823.86C920.2,825.01 923.4,826.79 926.5,829.48C929.6,832.14 932.7,835.69 935.8,839.94C938.9,844.24 942.1,849.25 945.2,854.77C948.3,860.29 951.5,866.32 954.6,872.66C957.2,877.98 959.9,883.53 962.5,889.18C966.8,898.4 971.1,907.89 975.4,917.13C980.3,927.59 985.1,937.72 990,946.77C994.3,954.84 998.7,962.05 1003,967.55C1007.6,973.38 1012.2,977.29 1016.8,978.23C1021.2,979.13 1025.6,977.32 1030,972.97C1034,969.02 1038,962.97 1042,954.96C1045,948.96 1048,941.85 1051,934.19C1054,926.63 1056.9,918.53 1059.9,910.44C1063,901.9 1066.2,893.38 1069.3,885.52C1073.7,874.55 1078,864.86 1082.4,857.67C1084.9,853.5 1087.5,850.18 1090,847.93C1092.2,846.01 1094.3,844.87 1096.5,844.68C1098.7,844.49 1100.8,845.24 1103,846.82C1105.5,848.63 1108,851.54 1110.5,855.36C1114.6,861.58 1118.6,870.22 1122.7,880.49C1125.2,886.8 1127.7,893.73 1130.2,901.1C1140.6,931.84 1151.1,970.22 1161.5,1003.19C1166,1017.41 1170.5,1030.62 1175,1042.69C1179.3,1054.32 1183.7,1064.88 1188,1074.25C1193,1085.07 1198,1094.31 1203,1102.29C1209.3,1112.41 1215.7,1120.51 1222,1127.26C1228.7,1134.37 1235.3,1139.98 1242,1144.87C1251,1151.46 1260,1156.73 1269,1161.01C1279.3,1165.92 1289.7,1169.53 1300,1172.34C1315.6,1176.57 1331.1,1178.99 1346.7,1181.33C1364.5,1184 1382.2,1186.57 1400,1188.95C1417.8,1191.33 1435.5,1193.52 1453.3,1195.42C1471.1,1197.33 1488.9,1198.95 1506.7,1200.18C1524.5,1201.42 1542.2,1202.28 1560,1202.81C1577.8,1203.34 1595.5,1203.55 1613.3,1203.48C1631.1,1203.42 1648.9,1203.07 1666.7,1202.51C1684.5,1201.95 1702.2,1201.16 1720,1200.21C1737.8,1199.25 1755.5,1198.13 1773.3,1196.89C1782.2,1196.26 1791.1,1195.61 1800,1194.94C1818.3,1193.55 1836.7,1192.06 1855,1190.54C1868.9,1189.38 1882.7,1188.21 1896.6,1186.1C1905.7,1184.7 1914.9,1182.91 1924,1180.44C1933.2,1177.95 1942.5,1174.78 1951.7,1170.65C1960.9,1166.55 1970.1,1161.49 1979.3,1156.13C1988.5,1150.76 1997.7,1145.08 2006.9,1139.72C2016.1,1134.36 2025.3,1129.32 2034.5,1125.22C2043.7,1121.15 2052.8,1118.01 2062,1115.91C2072.1,1113.59 2082.3,1112.53 2092.4,1112.86C2102.5,1113.19 2112.7,1114.91 2122.8,1118.13C2132,1121.05 2141.1,1125.2 2150.3,1130.01C2159.5,1134.84 2168.7,1140.34 2177.9,1145.92C2187.1,1151.5 2196.3,1157.17 2205.5,1162.34C2214.7,1167.52 2223.9,1172.2 2233.1,1176.39C2242.3,1180.59 2251.5,1184.3 2260.7,1187.55C2269.9,1190.79 2279.1,1193.56 2288.3,1195.87C2297.5,1198.18 2306.7,1200.03 2315.9,1201.44C2325.1,1202.84 2334.2,1203.79 2343.4,1204.31C2353.6,1204.89 2363.8,1204.94 2374,1204.46C2376.7,1204.33 2379.3,1204.21 2382,1204.08" stroke="#6AC83E" stroke-width="6.2" transform="scale(1,1.3548)"/>
<path d="M362.5,441.71C365.2,447.16 367.8,452.6 370.5,458.05C374.8,466.82 379.1,473.79 383.4,479.14C387.3,483.99 391.2,487.51 395.1,489.85C399.8,492.66 404.5,493.75 409.2,493.37C414.7,492.93 420.1,490.51 425.6,486.49C431.1,482.48 436.5,476.88 442,470.09C449.8,460.4 457.6,448.29 465.4,434.92C470.3,426.58 475.1,417.74 480,408.7C484.3,400.78 488.5,392.69 492.8,384.83C495.9,379.05 499.1,373.4 502.2,368.03C505.3,362.71 508.4,357.66 511.5,353.03C514.6,348.34 517.8,344.09 520.9,340.41C524,336.74 527.2,333.64 530.3,331.28C532.8,329.39 535.3,327.97 537.8,327.1C540,326.34 542.1,325.99 544.3,326.1C546.8,326.23 549.3,326.97 551.8,328.29C554.3,329.62 556.8,331.54 559.3,334.02C561.8,336.51 564.3,339.56 566.8,343.15C569,346.26 571.1,349.79 573.3,353.71C575.2,357.14 577.1,360.88 579,364.91C580.6,368.23 582.1,371.76 583.7,375.47C584.9,378.4 586.2,381.45 587.4,384.61C590.9,393.67 594.5,403.69 598,414.47C600.2,421.19 602.4,428.19 604.6,435.44C606.8,442.57 608.9,449.95 611.1,457.51C613.6,466.23 616.1,475.2 618.6,484.35C621.1,493.5 623.6,502.83 626.1,512.25C628.3,520.55 630.5,528.92 632.7,537.33C635.2,546.88 637.7,556.47 640.2,566.03C643,576.74 645.8,587.42 648.6,597.96C651.7,609.77 654.9,621.42 658,632.78C659.6,638.46 661.1,644.07 662.7,649.59C664.9,657.23 667,664.7 669.2,671.96C671.7,680.33 674.2,688.43 676.7,696.19C680.4,707.76 684.2,718.57 687.9,728.4C692.6,740.68 697.2,751.43 701.9,760.82C706.6,770.28 711.3,778.37 716,785.29C720.7,792.16 725.3,797.86 730,802.59C735.5,808.14 740.9,812.35 746.4,815.53C751.9,818.71 757.3,820.86 762.8,822.28C769,823.91 775.3,824.58 781.5,824.76C787.7,824.94 793.8,824.63 800,824.04C806.2,823.46 812.5,822.59 818.7,821.68C825,820.75 831.2,819.78 837.5,818.97C843.7,818.17 850,817.55 856.2,817.31C862.4,817.08 868.7,817.24 874.9,818.16C881.2,819.08 887.4,820.77 893.7,823.61C898.4,825.72 903,828.46 907.7,831.99C912.4,835.55 917.1,839.9 921.8,844.9C926.5,849.87 931.1,855.47 935.8,861.57C940.5,867.72 945.2,874.36 949.9,881.35C954.6,888.3 959.2,895.59 963.9,903.08C966.2,906.83 968.6,910.63 970.9,914.45C976.5,923.7 982.2,933.12 987.8,942.48C992.2,949.79 996.6,957.05 1001,962.78C1005.3,968.42 1009.7,972.58 1014,973.82C1018.3,975.06 1022.7,973.38 1027,969.1C1031.3,964.82 1035.7,957.93 1040,948.73C1043,942.36 1046,934.89 1049,926.88C1051.1,921.36 1053.1,915.59 1055.2,909.75C1057.4,903.52 1059.6,897.22 1061.8,891.06C1065.2,881.45 1068.7,872.18 1072.1,863.83C1076.2,853.93 1080.2,845.31 1084.3,838.9C1086.5,835.39 1088.8,832.54 1091,830.51C1093,828.69 1095,827.53 1097,827.15C1099,826.76 1101,827.15 1103,828.23C1105.2,829.42 1107.4,831.46 1109.6,834.24C1113.3,838.96 1117.1,845.83 1120.8,854.37C1124.2,862.23 1127.7,871.5 1131.1,881.74C1133,887.41 1134.9,893.38 1136.8,899.57C1146.4,930.73 1155.9,967.55 1165.5,1000.46C1169.7,1014.8 1173.8,1028.39 1178,1040.45C1182,1052.03 1186,1062.2 1190,1071.22C1195,1082.49 1200,1091.97 1205,1100.15C1211.3,1110.52 1217.7,1118.82 1224,1126.09C1230.3,1133.35 1236.7,1139.59 1243,1144.87C1252,1152.37 1261,1157.95 1270,1161.85C1280,1166.18 1290,1168.43 1300,1170.6C1315.6,1173.99 1331.1,1177.18 1346.7,1180.15C1364.5,1183.53 1382.2,1186.6 1400,1189.3C1417.8,1192.01 1435.5,1194.33 1453.3,1196.22C1471.1,1198.12 1488.9,1199.56 1506.7,1200.64C1524.5,1201.71 1542.2,1202.4 1560,1202.78C1577.8,1203.16 1595.5,1203.23 1613.3,1203.06C1631.1,1202.88 1648.9,1202.46 1666.7,1201.85C1684.5,1201.24 1702.2,1200.45 1720,1199.55C1737.8,1198.64 1755.5,1197.62 1773.3,1196.54C1782.2,1196 1791.1,1195.45 1800,1194.89C1818.3,1193.75 1836.7,1192.58 1855,1190.93C1868.9,1189.69 1882.7,1188.17 1896.6,1186.19C1905.7,1184.88 1914.9,1183.37 1924,1180.57C1933.2,1177.74 1942.5,1173.58 1951.7,1168.75C1960.9,1163.93 1970.1,1158.45 1979.3,1152.93C1988.5,1147.41 1997.7,1141.87 2006.9,1136.92C2016.1,1131.98 2025.3,1127.65 2034.5,1124.01C2043.7,1120.39 2052.8,1117.45 2062,1115.3C2072.1,1112.91 2082.3,1111.47 2092.4,1111.4C2102.5,1111.32 2112.7,1112.61 2122.8,1115.67C2132,1118.43 2141.1,1122.65 2150.3,1127.65C2159.5,1132.66 2168.7,1138.46 2177.9,1144.36C2187.1,1150.26 2196.3,1156.25 2205.5,1161.67C2214.7,1167.09 2223.9,1171.92 2233.1,1176.21C2242.3,1180.5 2251.5,1184.25 2260.7,1187.5C2269.9,1190.74 2279.1,1193.48 2288.3,1195.75C2297.5,1198.02 2306.7,1199.83 2315.9,1201.21C2325.1,1202.58 2334.2,1203.53 2343.4,1204.09C2353.6,1204.71 2363.8,1204.86 2374,1204.58C2376.7,1204.5 2379.3,1204.43 2382,1204.36" stroke="#C5DE1A" stroke-width="6.2" transform="scale(1,1.3548)"/>
<path d="M362.5,21.93C365.2,32.52 367.8,43.1 370.5,53.68C374.8,70.75 379.1,85.53 383.4,98.24C387.3,109.77 391.2,119.59 395.1,127.86C399,136.12 402.9,142.83 406.8,148.14C410.7,153.44 414.6,157.34 418.5,159.98C423.6,163.44 428.7,164.76 433.8,164.27C439,163.77 444.2,161.39 449.4,157.5C452.5,155.18 455.6,152.32 458.7,148.99C461.8,145.63 465,141.79 468.1,137.56C471.2,133.33 474.4,128.71 477.5,123.87C480.6,119.08 483.7,114.09 486.8,109.06C489.9,103.98 493.1,98.86 496.2,93.9C499.3,88.93 502.5,84.12 505.6,79.63C508.7,75.2 511.8,71.09 514.9,67.47C518,63.82 521.2,60.69 524.3,58.24C527.4,55.8 530.6,54.05 533.7,53.18C535.9,52.57 538,52.39 540.2,52.68C542.7,53.02 545.2,54 547.7,55.62C550.2,57.23 552.7,59.49 555.2,62.38C557.4,64.93 559.6,67.97 561.8,71.51C563.7,74.51 565.5,77.87 567.4,81.58C569,84.7 570.5,88.07 572.1,91.69C573.7,95.31 575.2,99.18 576.8,103.3C578.4,107.43 579.9,111.8 581.5,116.43C583,120.96 584.6,125.72 586.1,130.74C587.5,135.31 588.9,140.09 590.3,145.05C592.6,153.08 594.8,161.59 597.1,170.52C599.2,178.79 601.3,187.41 603.4,196.33C605.6,205.67 607.8,215.35 610,225.28C612.3,235.51 614.5,246.02 616.8,256.74C619,267.3 621.3,278.06 623.5,288.95C625.5,298.87 627.6,308.89 629.6,318.97C631.5,328.23 633.3,337.54 635.2,346.86C637.1,356.18 638.9,365.51 640.8,374.83C643.4,387.81 646,400.74 648.6,413.55C650.5,422.74 652.3,431.87 654.2,440.9C656.1,450.08 658,459.16 659.9,468.1C662.1,478.3 664.2,488.31 666.4,498.08C668.4,507.25 670.5,516.21 672.5,524.92C673.9,530.91 675.3,536.79 676.7,542.53C677.8,547.04 678.9,551.46 680,555.81C682.2,564.37 684.3,572.61 686.5,580.54C689.3,590.8 692.1,600.55 694.9,609.81C698.8,622.71 702.7,634.66 706.6,645.75C710.5,656.83 714.4,667.04 718.3,676.44C723,687.78 727.7,697.94 732.4,707.05C737.1,716.09 741.7,724.1 746.4,731.18C751.9,739.48 757.3,746.51 762.8,752.46C769,759.25 775.3,764.63 781.5,768.98C788.3,773.75 795.2,777.29 802,780.08C809.1,783 816.3,785.1 823.4,786.96C831.2,788.99 839,790.72 846.8,792.9C849.9,793.77 853.1,794.71 856.2,795.77C862.4,797.87 868.7,800.42 874.9,803.75C881.2,807.1 887.4,811.24 893.7,816.5C898.4,820.42 903,824.97 907.7,830.28C912.4,835.63 917.1,841.75 921.8,848.37C926.5,854.94 931.1,862 935.8,869.28C939.1,874.37 942.3,879.57 945.6,884.78C951.5,894.24 957.5,903.74 963.4,912.71C969.2,921.43 974.9,929.65 980.7,936.86C984.5,941.57 988.2,945.84 992,949.54C995,952.49 998,955.07 1001,957.21C1004.4,959.64 1007.8,961.5 1011.2,962.13C1014.5,962.73 1017.7,962.19 1021,959.91C1023.5,958.16 1026,955.39 1028.5,951.69C1031,947.99 1033.5,943.35 1036,937.85C1040.2,928.54 1044.5,916.77 1048.7,904.13C1051,897.36 1053.2,890.34 1055.5,883.3C1058.2,874.82 1061,866.33 1063.7,858.25C1067.8,846.22 1071.8,835.1 1075.9,826.29C1078.7,820.23 1081.5,815.26 1084.3,811.46C1086.5,808.43 1088.8,806.15 1091,804.66C1093,803.32 1095,802.62 1097,802.58C1099,802.54 1101,803.16 1103,804.47C1105.2,805.91 1107.4,808.19 1109.6,811.19C1112.1,814.6 1114.6,818.94 1117.1,824.03C1121.2,832.31 1125.2,842.58 1129.3,854.1C1132.1,862.04 1134.9,870.56 1137.7,879.44C1139.3,884.4 1140.8,889.47 1142.4,894.63C1152.8,928.75 1163.1,966.49 1173.5,1000.34C1176,1008.5 1178.5,1016.44 1181,1024.04C1184.7,1035.19 1188.3,1045.63 1192,1055.03C1196.9,1067.49 1201.7,1078.12 1206.6,1087.27C1209.5,1092.66 1212.3,1097.54 1215.2,1101.98C1218.6,1107.25 1222,1111.91 1225.4,1116.09C1230.3,1122.07 1235.1,1127.05 1240,1131.42C1244.7,1135.61 1249.3,1139.22 1254,1142.37C1259.7,1146.23 1265.5,1149.39 1271.2,1152.03C1280.8,1156.44 1290.4,1159.39 1300,1161.75C1306.7,1163.39 1313.3,1164.75 1320,1166.12C1328.9,1167.94 1337.8,1169.79 1346.7,1171.6C1355.6,1173.4 1364.4,1175.17 1373.3,1176.86C1382.2,1178.55 1391.1,1180.15 1400,1181.61C1408.9,1183.07 1417.8,1184.39 1426.7,1185.58C1435.6,1186.77 1444.4,1187.82 1453.3,1188.76C1462.2,1189.7 1471.1,1190.52 1480,1191.23C1488.9,1191.94 1497.8,1192.54 1506.7,1193.04C1524.5,1194.05 1542.2,1194.66 1560,1194.96C1577.8,1195.25 1595.5,1195.24 1613.3,1195C1631.1,1194.76 1648.9,1194.3 1666.7,1193.69C1684.5,1193.08 1702.2,1192.32 1720,1191.51C1728.9,1191.1 1737.8,1190.68 1746.7,1190.23C1755.6,1189.79 1764.4,1189.31 1773.3,1188.8C1782.2,1188.28 1791.1,1187.72 1800,1187.11C1818.3,1185.86 1836.7,1184.38 1855,1182.57C1868.9,1181.2 1882.7,1179.64 1896.6,1177.12C1905.7,1175.47 1914.9,1173.39 1924,1170.69C1933.2,1167.96 1942.5,1164.58 1951.7,1160.32C1960.9,1156.09 1970.1,1150.98 1979.3,1145.56C1988.5,1140.14 1997.7,1134.41 2006.9,1128.91C2016.1,1123.41 2025.3,1118.14 2034.5,1113.66C2043.7,1109.19 2052.8,1105.5 2062,1103.14C2072.1,1100.52 2082.3,1099.52 2092.4,1100.04C2102.5,1100.55 2112.7,1102.58 2122.8,1106.01C2132,1109.12 2141.1,1113.37 2150.3,1118.24C2159.5,1123.13 2168.7,1128.63 2177.9,1134.19C2187.1,1139.75 2196.3,1145.38 2205.5,1150.83C2214.7,1156.29 2223.9,1161.57 2233.1,1166.44C2242.3,1171.31 2251.5,1175.76 2260.7,1179.57C2269.9,1183.37 2279.1,1186.53 2288.3,1188.79C2297.5,1191.06 2306.7,1192.43 2315.9,1193.35C2325.1,1194.27 2334.2,1194.74 2343.4,1195.19C2353.6,1195.69 2363.8,1196.17 2374,1197.22C2376.7,1197.49 2379.3,1197.77 2382,1198.04" stroke="#FCEE00" stroke-width="6.6" transform="scale(1,1.3636)"/>
</g>
<path d="M959.5,639.1 L963,642 L966.5,645 L970,648 L973.5,651.1 L976.8,654.2 L980.2,657.3 L983.5,660.5 L986.8,663.7 L990,667 L993.2,670.3 L996.3,673.6 L999.4,677 L1002.5,680.4 L1005.5,683.9 L1008.5,687.4 L1011.5,690.9 L1014.4,694.4 L1017.3,698 L1020.1,701.6 L1022.9,705.2 L1025.6,708.9 L1028.3,712.6 L1031,716.3 L1033.7,720.1 L1036.3,723.9 L1038.8,727.7 L1041.4,731.5 L1043.8,735.4 L1046.3,739.3 L1048.7,743.2 L1051.1,747.1 L1053.4,751 L1055.7,755 L1058,759 L1060.2,763 L1062.4,767.1 L1064.5,771.1 L1066.6,775.2 L1068.7,779.3 L1070.7,783.4 L1072.7,787.6 L1074.7,791.7 L1076.6,795.9 L1078.5,800.1 L1080.3,804.3 L1082.1,808.5 L1083.9,812.7 L1085.6,817 L1087.3,821.2 L1088.9,825.5 L1090.5,829.8 L1092.1,834.1 L1093.6,838.5 L1095.1,842.8 L1096.5,847.1 L1098,851.5 L1099.3,855.9 L1100.6,860.3 L1101.9,864.7 L1103.1,869.1 L1104.3,873.5 L1105.5,878 L1106.6,882.4 L1107.6,886.9 L1108.7,891.3 L1109.6,895.8 L1110.6,900.3 L1111.5,904.8 L1112.3,909.3 L1113.1,913.9 L1113.8,918.4 L1114.5,923 L1115.2,927.5 L1115.8,932.1 L1116.3,936.7 L1116.8,941.3 L1117.3,945.9 L1117.7,950.5 L1118.1,955.1" fill="none" stroke="#000" stroke-width="5.6" stroke-dasharray="27.3 29.9"/>
<path d="M1120.6,996.8 L1108.9,954.4 L1130.3,953.7 Z" fill="#000" stroke="#000" stroke-width="2.2" stroke-linejoin="round"/>
<text class="tk" transform="translate(316,1655.5) scale(1,1.04)" text-anchor="end">0.00</text>
<text class="tk" transform="translate(316,1140) scale(1,1.04)" text-anchor="end">0.15</text>
<text class="tk" transform="translate(316,624.5) scale(1,1.04)" text-anchor="end">0.30</text>
<text class="tk" transform="translate(316,109) scale(1,1.04)" text-anchor="end">0.45</text>
<text class="tk" transform="translate(370.5,1775.6) scale(1,1.04)" text-anchor="middle">300</text>
<text class="tk" transform="translate(815.7,1775.6) scale(1,1.04)" text-anchor="middle">400</text>
<text class="tk" transform="translate(1260.9,1775.6) scale(1,1.04)" text-anchor="middle">500</text>
<text class="tk" transform="translate(1706.2,1775.6) scale(1,1.04)" text-anchor="middle">600</text>
<text class="tk" transform="translate(2151.4,1775.6) scale(1,1.04)" text-anchor="middle">700</text>
<text class="tk" transform="translate(926.5,593.2) scale(1,1.04)" text-anchor="middle">426</text>
<text class="tk" transform="translate(1109,1069.3) scale(1,1.04)" text-anchor="middle">463</text>
<text class="tk" transform="translate(2093.8,1472.2) scale(1,1.04)" text-anchor="middle">687</text>
<text class="ti" transform="translate(1372.4,1905.2) scale(1,1.015)" text-anchor="middle">Wavelength, nm</text>
<text class="ti" transform="translate(89.5,818.7) rotate(-90) scale(1,1.015)" text-anchor="middle">Absorbance</text>
<line x1="2004.6" y1="111.8" x2="2155.9" y2="111.8" stroke="#500068" stroke-width="8.6" stroke-linecap="round"/>
<text class="tk" transform="translate(2176,136.2) scale(1,1.04)" text-anchor="start">0 eq</text>
<line x1="2004.6" y1="196.1" x2="2155.9" y2="196.1" stroke="#3E2870" stroke-width="8.6" stroke-linecap="round"/>
<text class="tk" transform="translate(2176,220.5) scale(1,1.04)" text-anchor="start">1 eq</text>
<line x1="2004.6" y1="280.8" x2="2155.9" y2="280.8" stroke="#0F5A7C" stroke-width="8.6" stroke-linecap="round"/>
<text class="tk" transform="translate(2176,305.2) scale(1,1.04)" text-anchor="start">5 eq</text>
<line x1="2004.6" y1="365.6" x2="2155.9" y2="365.6" stroke="#008080" stroke-width="8.6" stroke-linecap="round"/>
<text class="tk" transform="translate(2176,390) scale(1,1.04)" text-anchor="start">10 eq</text>
<line x1="2004.6" y1="450.5" x2="2155.9" y2="450.5" stroke="#00A884" stroke-width="8.6" stroke-linecap="round"/>
<text class="tk" transform="translate(2176,474.9) scale(1,1.04)" text-anchor="start">20 eq</text>
<line x1="2004.6" y1="534.8" x2="2155.9" y2="534.8" stroke="#04B866" stroke-width="8.6" stroke-linecap="round"/>
<text class="tk" transform="translate(2176,559.2) scale(1,1.04)" text-anchor="start">30 eq</text>
<line x1="2004.6" y1="619.6" x2="2155.9" y2="619.6" stroke="#6AC83E" stroke-width="8.6" stroke-linecap="round"/>
<text class="tk" transform="translate(2176,644) scale(1,1.04)" text-anchor="start">40 eq</text>
<line x1="2004.6" y1="704.2" x2="2155.9" y2="704.2" stroke="#C5DE1A" stroke-width="8.6" stroke-linecap="round"/>
<text class="tk" transform="translate(2176,728.6) scale(1,1.04)" text-anchor="start">50 eq</text>
<line x1="2004.6" y1="788.5" x2="2155.9" y2="788.5" stroke="#FCEE00" stroke-width="9.3" stroke-linecap="round"/>
<text class="tk" transform="translate(2176,812.9) scale(1,1.04)" text-anchor="start">80 eq</text>
</svg>
</body></html>
